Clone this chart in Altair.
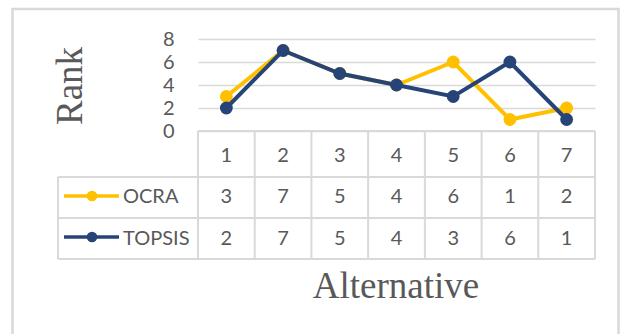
import altair as alt
import pandas as pd

alternatives = [1, 2, 3, 4, 5, 6, 7]
ocra = [3, 7, 5, 4, 6, 1, 2]
topsis = [2, 7, 5, 4, 3, 6, 1]
series_names = ["OCRA", "TOPSIS"]
series_colors = ["#FFC000", "#264478"]
y_ticks = [0, 2, 4, 6, 8]

GRID = "#D9D9D9"
TXT = "#595959"
FONT = "Lato"
SERIF = "Liberation Serif"

long_df = pd.DataFrame(
    {
        "Alternative": alternatives * 2,
        "Rank": ocra + topsis,
        "Series": ["OCRA"] * len(alternatives) + ["TOPSIS"] * len(alternatives),
    }
)
bounds_df = pd.DataFrame({"b": [a - 0.5 for a in alternatives] + [alternatives[-1] + 0.5]})
one = pd.DataFrame({"k": [0]})

xs = alt.Scale(domain=[0.5, 7.5], nice=False, zero=False)
ys = alt.Scale(domain=[0, 8], nice=False)
cs = alt.Scale(domain=series_names, range=series_colors)

yax = alt.Axis(
    values=y_ticks,
    tickCount=5,
    grid=True,
    gridColor=GRID,
    gridWidth=1.5,
    domain=False,
    ticks=False,
    labelOverlap=False,
    labelPadding=24,
    labelFont=FONT,
    labelFontSize=20,
    labelColor=TXT,
    title=None,
)

# outer frame
frame = alt.Chart(one).mark_rect(fill=None, stroke=GRID, strokeWidth=2.5).encode(
    x=alt.value(-185.5), x2=alt.value(420.5), y=alt.value(-30), y2=alt.value(320)
)

# y axis + grid (invisible carrier)
axis_layer = alt.Chart(long_df).mark_point(opacity=0).encode(
    x=alt.X("Alternative:Q", scale=xs, axis=None),
    y=alt.Y("Rank:Q", scale=ys, axis=yax),
)

layers = [frame, axis_layer]

# table grid
vlines = alt.Chart(bounds_df).mark_rule(color=GRID, strokeWidth=2).encode(
    x=alt.X("b:Q", scale=xs, axis=None), y=alt.value(92), y2=alt.value(220)
)
layers.append(vlines)
for yv, x0 in [(92, 0), (138, -140), (179, -140), (220, -140)]:
    layers.append(
        alt.Chart(one).mark_rule(color=GRID, strokeWidth=2).encode(
            x=alt.value(x0), x2=alt.value(397), y=alt.value(yv)
        )
    )
layers.append(
    alt.Chart(one).mark_rule(color=GRID, strokeWidth=2).encode(
        x=alt.value(-140), y=alt.value(138), y2=alt.value(220)
    )
)

# lines and markers, series by series
for name in series_names:
    base = alt.Chart(long_df).transform_filter(alt.datum.Series == name)
    layers.append(
        base.mark_line(strokeWidth=4).encode(
            x=alt.X("Alternative:Q", scale=xs, axis=None),
            y=alt.Y("Rank:Q", scale=ys, axis=yax),
            color=alt.Color("Series:N", scale=cs, legend=None),
        )
    )
    layers.append(
        base.mark_point(filled=True, opacity=1, size=165).encode(
            x=alt.X("Alternative:Q", scale=xs, axis=None),
            y=alt.Y("Rank:Q", scale=ys, axis=yax),
            color=alt.Color("Series:N", scale=cs, legend=None),
        )
    )

# table header numbers
hdr_df = pd.DataFrame({"Alternative": alternatives})
layers.append(
    alt.Chart(hdr_df).mark_text(font=FONT, fontSize=20, color=TXT, baseline="alphabetic").encode(
        x=alt.X("Alternative:Q", scale=xs, axis=None), y=alt.value(123), text="Alternative:N"
    )
)

# table rows and legend keys
row_cfg = {"OCRA": (157, 164), "TOPSIS": (198, 206)}
for name, color in zip(series_names, series_colors):
    mid, base_y = row_cfg[name]
    base = alt.Chart(long_df).transform_filter(alt.datum.Series == name)
    layers.append(
        base.mark_text(font=FONT, fontSize=20, color=TXT, baseline="alphabetic").encode(
            x=alt.X("Alternative:Q", scale=xs, axis=None), y=alt.value(base_y), text="Rank:Q"
        )
    )
    key = alt.Chart(pd.DataFrame({"Series": [name]}))
    layers.append(
        key.mark_rule(color=color, strokeWidth=3.5).encode(
            x=alt.value(-134), x2=alt.value(-79), y=alt.value(mid)
        )
    )
    layers.append(
        key.mark_point(filled=True, opacity=1, size=115, color=color).encode(
            x=alt.value(-106), y=alt.value(mid)
        )
    )
    layers.append(
        key.mark_text(font=FONT, fontSize=20, color=TXT, align="left", baseline="alphabetic").encode(
            x=alt.value(-75), y=alt.value(base_y), text="Series:N"
        )
    )

# titles
layers.append(
    alt.Chart(pd.DataFrame({"t": ["Rank"]})).mark_text(
        font=SERIF, fontSize=37, color=TXT, angle=270, align="center", baseline="alphabetic"
    ).encode(x=alt.value(-116), y=alt.value(47), text="t:N")
)
layers.append(
    alt.Chart(pd.DataFrame({"t": ["Alternative"]})).mark_text(
        font=SERIF, fontSize=37, color=TXT, align="center", baseline="alphabetic"
    ).encode(x=alt.value(198), y=alt.value(259), text="t:N")
)

chart = (
    alt.layer(*layers)
    .properties(
        width=397,
        height=92,
        autosize=alt.AutoSizeParams(type="none"),
        padding={"left": 198, "top": 39, "right": 29, "bottom": 203},
        background="white",
    )
    .configure_view(stroke=None)
)

chart.save("out.html", embed_options={"renderer": "svg", "actions": False})
